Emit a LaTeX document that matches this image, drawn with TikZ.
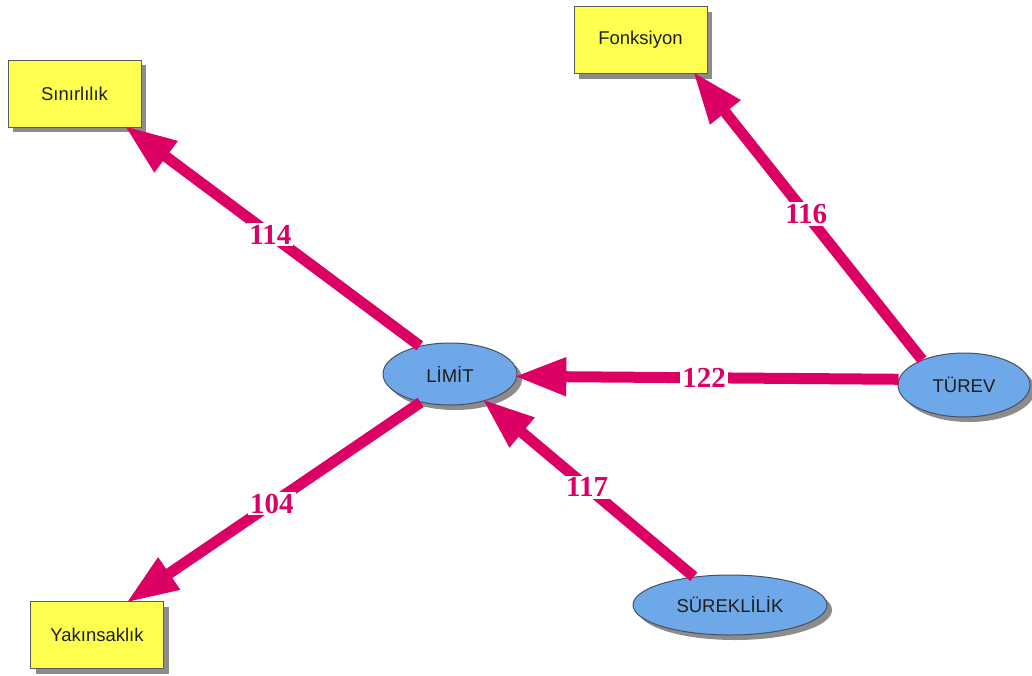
\documentclass[tikz,border=0pt]{standalone}
\usepackage{fontspec}
\setmainfont{Liberation Sans}
\newfontfamily\nodefont{Liberation Sans}
\newfontfamily\numfont{Liberation Serif}
\usetikzlibrary{shapes.geometric,shadows,arrows.meta}
\definecolor{boxyellow}{RGB}{255,255,80}
\definecolor{boxedge}{RGB}{90,90,90}
\definecolor{topicblue}{RGB}{111,168,232}
\definecolor{topicedge}{RGB}{70,80,100}
\definecolor{linkpink}{RGB}{220,0,100}
\definecolor{textdark}{RGB}{30,30,30}
\begin{document}
\begin{tikzpicture}[x=1pt,y=-1pt,
  softshadow/.style={drop shadow={shadow xshift=5pt,shadow yshift=-5pt,fill=black!45,opacity=1}},
  concept/.style={rectangle,draw=boxedge,line width=1pt,fill=boxyellow,
    minimum width=133pt,minimum height=67pt,inner sep=0pt,
    font=\nodefont\fontsize{18.5}{22}\selectfont,text=textdark,softshadow},
  topic/.style={ellipse,draw=topicedge,line width=1pt,fill=topicblue,
    inner sep=0pt,font=\nodefont\fontsize{18.5}{22}\selectfont,text=textdark,softshadow},
  link/.style={draw=linkpink,line width=11pt,shorten >=-3pt,
    -{Triangle[length=52pt,width=36pt]}},
  weight/.style={fill=white,inner sep=2pt,text=linkpink,
    font=\numfont\bfseries\fontsize{29}{29}\selectfont,pos=0.51}
]
\useasboundingbox (0,0) rectangle (1032,675);

% concepts
\node[concept] (sin) at (74.5,93.5) {Sınırlılık};
\node[concept] (fonk) at (640.5,40) {Fonksiyon};
\node[concept] (yak) at (97,635) {Yakınsaklık};

% topics
\node[topic,minimum width=134pt,minimum height=62pt] (lim) at (450,374) {LİMİT};
\node[topic,minimum width=132pt,minimum height=64pt] (tur) at (964,385) {TÜREV};
\node[topic,minimum width=194pt,minimum height=60pt] (sur) at (730,605) {SÜREKLİLİK};

% weighted links
\draw[link] (lim.137) -- node[weight] {114} (sin.-33);
\draw[link] (tur.149) -- node[weight] {116} (fonk.-32);
\draw[link] (tur.175) -- node[weight] {122} (lim.-2);
\draw[link] (sur.142) -- node[weight] {117} (lim.-38);
\draw[link] (lim.224) -- node[weight] {104} (yak.47);
\end{tikzpicture}
\end{document}
